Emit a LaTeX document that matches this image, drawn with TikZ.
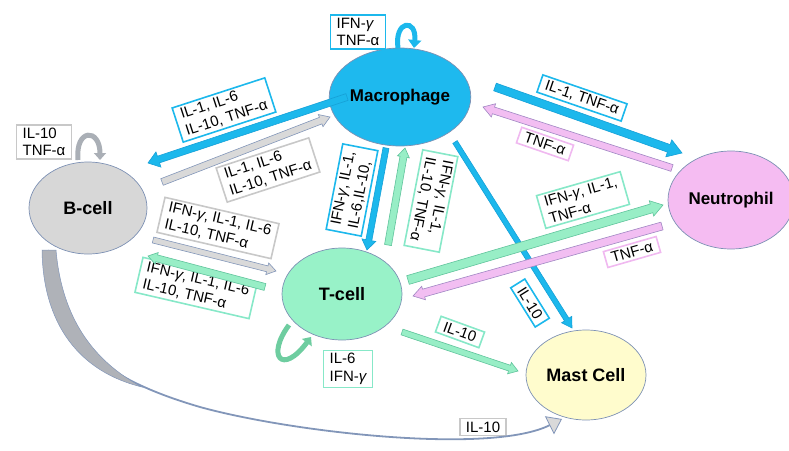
\documentclass[tikz,border=0pt]{standalone}
\usepackage{fontspec}
\setmainfont{Liberation Sans}
\usetikzlibrary{calc,shapes.geometric,arrows.meta}
\definecolor{cyanF}{RGB}{28,184,236}
\definecolor{cyanB}{RGB}{22,160,215}
\definecolor{grayF}{RGB}{217,217,217}
\definecolor{grayB}{RGB}{130,150,185}
\definecolor{grayL}{RGB}{200,200,200}
\definecolor{grayD}{RGB}{170,175,182}
\definecolor{grayT}{RGB}{175,178,184}
\definecolor{aquaF}{RGB}{152,238,198}
\definecolor{aquaB}{RGB}{95,195,155}
\definecolor{aquaL}{RGB}{135,232,200}
\definecolor{aquaD}{RGB}{110,205,160}
\definecolor{pinkF}{RGB}{242,190,242}
\definecolor{pinkB}{RGB}{160,135,195}
\definecolor{pinkL}{RGB}{240,185,240}
\definecolor{macF}{RGB}{30,185,238}
\definecolor{bF}{RGB}{215,215,215}
\definecolor{tF}{RGB}{152,242,200}
\definecolor{nF}{RGB}{245,188,242}
\definecolor{mF}{RGB}{255,252,205}
\definecolor{cellB}{RGB}{125,145,180}
\newcommand\gam{{\itshape γ}}
\newcommand\blkarr[6]{%
  \path ($(#2)!#6!(#1)$) coordinate (hb);
  \draw[#3,line join=miter] ($(#1)!#4!90:(#2)$) -- ($(hb)!#4!-90:(#1)$) -- ($(hb)!#5!-90:(#1)$) -- (#2)
     -- ($(hb)!#5!90:(#1)$) -- ($(hb)!#4!90:(#1)$) -- ($(#1)!#4!-90:(#2)$) -- cycle;}
\tikzset{
  cell/.style={ellipse, draw=cellB, line width=0.7pt, font=\fontsize{18}{20}\selectfont\bfseries, inner sep=0pt},
  lab/.style={fill=white, align=left, font=\fontsize{15}{17.5}\selectfont, inner xsep=6pt, inner ysep=3pt, line width=1.6pt},
  cyanA/.style={fill=cyanF, draw=cyanB, line width=0.6pt},
  grayA/.style={fill=grayF, draw=grayB, line width=0.6pt},
  aquaA/.style={fill=aquaF, draw=aquaB, line width=0.6pt},
  pinkA/.style={fill=pinkF, draw=pinkB, line width=0.6pt},
}
\begin{document}
\begin{tikzpicture}[x=1pt,y=-1pt]
\useasboundingbox (0,0) rectangle (789,450);
% cells
\node[cell, fill=macF, minimum width=118pt, minimum height=98pt, font=\fontsize{17}{19}\selectfont\bfseries] (mac) at (400,97) {Macrophage};
\node[cell, fill=bF, minimum width=118pt, minimum height=92pt] (bcell) at (88,208) {B-cell};
\node[cell, fill=tF, minimum width=120pt, minimum height=92pt] (tcell) at (342,294) {T-cell};
\node[cell, fill=nF, minimum width=126pt, minimum height=98pt, font=\fontsize{17}{19}\selectfont\bfseries] (neut) at (731,200) {Neutrophil};
\node[cell, fill=mF, minimum width=120pt, minimum height=90pt] (mast) at (586,375) {Mast Cell};

% labels
\node[lab, draw=cyanF, rotate=18] (l1) at (224,110) {IL-1, IL-6\\IL-10, TNF-α};
\node[lab, draw=grayL, rotate=18] (l2) at (268,170) {IL-1, IL-6\\IL-10, TNF-α};
\node[lab, draw=grayL, rotate=-13] (l3) at (218,228) {IFN-\gam, IL-1, IL-6\\IL-10, TNF-α};
\node[lab, draw=aquaL, rotate=-13] (l4) at (196,288) {IFN-\gam, IL-1, IL-6\\IL-10, TNF-α};
\node[lab, draw=cyanF, rotate=79] (l5) at (352,190) {IFN-\gam, IL-1,\\IL-6,IL-10,};
\node[lab, draw=aquaL, rotate=-101] (l6) at (431,201) {IFN-\gam, IL-1,\\IL-10, TNF-α};
\node[lab, draw=cyanF, rotate=-19] (l7) at (582,98) {IL-1, TNF-α};
\node[lab, draw=pinkL, rotate=-19] (l8) at (545,144) {TNF-α};
\node[lab, draw=aquaL, rotate=16] (l9) at (583,200) {IFN-\gam, IL-1,\\TNF-α};
\node[lab, draw=pinkL, rotate=16] (l10) at (632,252) {TNF-α};
\node[lab, draw=cyanF, rotate=-58] (l11) at (530,303) {IL-10};
\node[lab, draw=aquaL, rotate=-20] (l12) at (460,332) {IL-10};
\node[lab, draw=cyanF] (l13) at (358,32) {IFN-\gam\\TNF-α};
\node[lab, draw=grayL] (l14) at (44,142) {IL-10\\TNF-α};
\node[lab, draw=aquaL] (l15) at (348,369) {IL-6\\IFN-\gam};
\node[lab, draw=grayL] (l16) at (483,427) {IL-10};

% arrow end points
\coordinate (a1s) at (347,97);  \coordinate (a1e) at (148,163);
\coordinate (a2s) at (162,182); \coordinate (a2e) at (330,117);
\coordinate (a3s) at (153,240); \coordinate (a3e) at (276,271);
\coordinate (a4s) at (265,287); \coordinate (a4e) at (148,256);
\coordinate (a5s) at (386,148); \coordinate (a5e) at (367,250);
\coordinate (a6s) at (388,245); \coordinate (a6e) at (405,148);
\coordinate (a7s) at (495,87);  \coordinate (a7e) at (682,153);
\coordinate (a8s) at (672,168); \coordinate (a8e) at (483,107);
\coordinate (a9s) at (408,280); \coordinate (a9e) at (663,205);
\coordinate (a10s) at (662,226); \coordinate (a10e) at (413,296);
\coordinate (a11s) at (455,142); \coordinate (a11e) at (572,328);
\coordinate (a12s) at (402,332); \coordinate (a12e) at (518,371);

\blkarr{a11s}{a11e}{cyanA}{2.6pt}{6pt}{10pt}
\blkarr{a1s}{a1e}{cyanA}{3.5pt}{8pt}{11pt}
\blkarr{a2s}{a2e}{grayA}{3.5pt}{6.5pt}{10pt}
\blkarr{a3s}{a3e}{grayA}{3pt}{6pt}{9pt}
\blkarr{a4s}{a4e}{aquaA}{3.5pt}{6pt}{9pt}
\blkarr{a5s}{a5e}{cyanA}{3pt}{7pt}{10pt}
\blkarr{a6s}{a6e}{aquaA}{3.5pt}{6pt}{9pt}
\blkarr{a7s}{a7e}{cyanA}{4pt}{9pt}{14pt}
\blkarr{a8s}{a8e}{pinkA}{3.5pt}{7pt}{11pt}
\blkarr{a9s}{a9e}{aquaA}{4.5pt}{8pt}{12pt}
\blkarr{a10s}{a10e}{pinkA}{4pt}{7pt}{11pt}
\blkarr{a12s}{a12e}{aquaA}{3pt}{6pt}{9pt}

% self loops
\coordinate (m1) at (398,48); \coordinate (m2) at (414,48);
\draw[line width=5pt, cyanF, -{Triangle[width=13pt,length=8pt]}] (m1) .. controls (394,20) and (417,18) .. (m2);
\coordinate (b1) at (78,160); \coordinate (b2) at (100,160);
\draw[line width=5pt, grayD, -{Triangle[width=12pt,length=7pt]}] (b1) .. controls (75,128) and (100,128) .. (b2);
\coordinate (t1) at (289,325); \coordinate (t2) at (311,337);
\draw[line width=5pt, aquaD, -{Triangle[width=12pt,length=7pt]}] (t1) .. controls (266,356) and (282,376) .. (t2);

% long curved arrow
\coordinate (cs) at (48,250); \coordinate (cm) at (200,407); \coordinate (ce) at (562,419);
\draw[line width=1.8pt, grayB, -{Triangle[width=20pt,length=14pt,fill=grayF,line width=0.8pt]}] (cs) .. controls (50,330) and (90,375) .. (cm) .. controls (290,432) and (490,455) .. (ce);
\fill[grayT, draw=grayB, line width=0.5pt] (42,250) .. controls (43,325) and (80,372) .. (142,387) .. controls (95,362) and (62,320) .. (56,250) -- cycle;
\end{tikzpicture}
\end{document}
